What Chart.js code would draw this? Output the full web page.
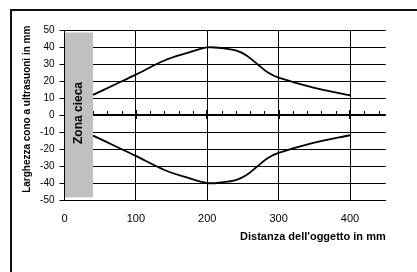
<!DOCTYPE html>
<html>
<head>
<meta charset="utf-8">
<script src="https://cdn.jsdelivr.net/npm/chart.js@4"></script>
<style>
html,body{margin:0;padding:0;background:#fff;overflow:hidden;width:417px;height:272px;}
#frame{position:absolute;left:10px;top:9px;width:600px;height:400px;border-left:2px solid #111;border-top:2px solid #111;}
#wrap{position:absolute;left:0;top:0;width:417px;height:272px;}
</style>
</head>
<body>
<div id="frame"></div>
<div id="wrap"><canvas id="c" width="417" height="272"></canvas></div>
<script>
// ---- data ----
const distances = [40, 70, 100, 140, 170, 200, 220, 240, 255, 270, 285, 300, 350, 400];
const upperWidth = [12, 18, 24, 32.3, 36.5, 40, 39.6, 38.3, 35.3, 30.2, 25.2, 22.2, 16.2, 11.8];
const lowerWidth = [-12, -18, -24, -32.3, -36.5, -40, -39.6, -38.3, -35.3, -30.2, -25.2, -22.2, -16.2, -11.8];
const xTicks = [0, 100, 200, 300, 400];
const yTicks = [-50, -40, -30, -20, -10, 0, 10, 20, 30, 40, 50];
const zeroAxisTicks = [20, 40, 60, 80, 100, 120, 140, 160, 180, 200, 220, 240, 260, 280, 300, 320, 340, 360, 380, 400, 420, 440];
const blindZoneX = [0, 40];
const blindZoneY = [-48.5, 48.8];
const blindZoneLabel = 'Zona cieca';
const xTitle = "Distanza dell'oggetto in mm";
const yTitle = 'Larghezza cono a ultrasuoni in mm';

const FONT = "'Liberation Sans', Arial, sans-serif";

const decorPlugin = {
  id: 'decor',
  beforeDatasetsDraw(chart) {
    const ctx = chart.ctx, xs = chart.scales.x, ys = chart.scales.y;
    const y0 = Math.round(ys.getPixelForValue(0));
    ctx.save();
    ctx.fillStyle = '#000';
    // zero axis
    ctx.fillRect(xs.left, y0 - 1, xs.right - xs.left, 2);
    zeroAxisTicks.forEach(v => {
      const px = Math.round(xs.getPixelForValue(v));
      if (v % 100 === 0) ctx.fillRect(px - 1, y0 - 5, 2, 9);
      else ctx.fillRect(px, y0 - 4, 1, 4);
    });
    // blind zone
    const x1 = xs.getPixelForValue(blindZoneX[0]) + 0.5;
    const x2 = xs.getPixelForValue(blindZoneX[1]);
    const yt = ys.getPixelForValue(blindZoneY[1]);
    const yb = ys.getPixelForValue(blindZoneY[0]);
    ctx.fillStyle = '#c0c0c0';
    ctx.fillRect(x1, yt, x2 - x1, yb - yt);
    ctx.save();
    ctx.translate((x1 + x2) / 2, (yt + yb) / 2 - 2);
    ctx.rotate(-Math.PI / 2);
    ctx.fillStyle = '#000';
    ctx.font = 'bold 12px ' + FONT;
    ctx.textAlign = 'center';
    ctx.textBaseline = 'middle';
    ctx.fillText(blindZoneLabel, 0, 0);
    ctx.restore();
    ctx.restore();
  },
  afterDraw(chart) {
    const ctx = chart.ctx, ys = chart.scales.y;
    ctx.save();
    ctx.translate(27, (ys.top + ys.bottom) / 2 - 6);
    ctx.rotate(-Math.PI / 2);
    ctx.fillStyle = '#000';
    ctx.font = 'bold 10px ' + FONT;
    ctx.textAlign = 'center';
    ctx.textBaseline = 'middle';
    ctx.fillText(yTitle, 0, 0);
    ctx.restore();
  }
};

new Chart(document.getElementById('c'), {
  type: 'line',
  data: {
    datasets: [
      { data: distances.map((d, i) => ({x: d, y: upperWidth[i]})), borderColor: '#000', borderWidth: 1.8, pointRadius: 0, tension: 0.35, fill: false },
      { data: distances.map((d, i) => ({x: d, y: lowerWidth[i]})), borderColor: '#000', borderWidth: 1.8, pointRadius: 0, tension: 0.35, fill: false }
    ]
  },
  options: {
    responsive: false,
    animation: false,
    devicePixelRatio: 1,
    layout: { padding: { left: 17, top: 30.5, right: 31.3, bottom: 24.6 } },
    plugins: { legend: { display: false }, tooltip: { enabled: false } },
    scales: {
      x: {
        type: 'linear', min: 0, max: 450,
        afterBuildTicks: (s) => { s.ticks = xTicks.map(v => ({value: v})); },
        afterFit: (s) => { s.height = 47.4; },
        grid: { color: '#000', lineWidth: 1, drawTicks: false },
        border: { color: '#000', width: 1 },
        ticks: { color: '#000', font: { family: FONT, size: 11 }, padding: 12, maxRotation: 0 },
        title: { display: true, text: xTitle, align: 'end', color: '#000', font: { family: FONT, size: 11, weight: 'bold' }, padding: { top: 5, bottom: 4 } }
      },
      y: {
        type: 'linear', min: -50, max: 50,
        afterBuildTicks: (s) => { s.ticks = yTicks.map(v => ({value: v})); },
        afterFit: (s) => { s.width = 47.5; },
        grid: { color: '#000', lineWidth: 1, drawTicks: true, tickLength: 5 },
        border: { color: '#000', width: 1 },
        ticks: { color: '#000', font: { family: FONT, size: 10 }, padding: 5 },
        title: { display: false }
      }
    }
  },
  plugins: [decorPlugin]
});
</script>
</body>
</html>
